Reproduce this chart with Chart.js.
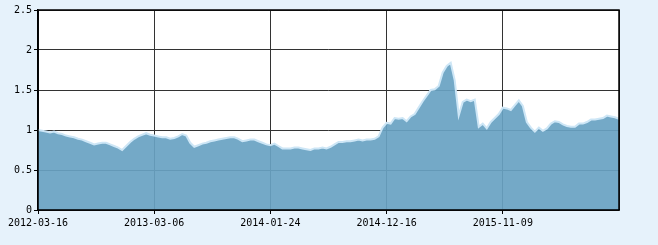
<!DOCTYPE html>
<html>
<head>
<meta charset="utf-8">
<script src="https://cdn.jsdelivr.net/npm/chart.js@4"></script>
<style>
  html, body { margin: 0; padding: 0; background: #e6f2fb; }
  #wrap { width: 658px; height: 245px; }
</style>
</head>
<body>
<div id="wrap"><canvas id="myChart" width="658" height="245"></canvas></div>
<script>
// x tick labels, one every 29 samples
const tickLabels = ['2012-03-16', '2013-03-06', '2014-01-24', '2014-12-16', '2015-11-09', ''];
const tickStep = 29;

const values = [
  1.00, 0.99, 0.98, 0.97, 0.98, 0.96, 0.95, 0.93, 0.92, 0.91,
  0.89, 0.88, 0.86, 0.84, 0.82, 0.83, 0.84, 0.84, 0.82, 0.80,
  0.78, 0.75, 0.80, 0.85, 0.89, 0.92, 0.94, 0.96, 0.94, 0.93,
  0.92, 0.91, 0.91, 0.89, 0.90, 0.92, 0.95, 0.93, 0.84, 0.79,
  0.81, 0.83, 0.84, 0.86, 0.87, 0.88, 0.89, 0.90, 0.91, 0.91,
  0.89, 0.86, 0.87, 0.88, 0.88, 0.86, 0.84, 0.82, 0.81, 0.83,
  0.80, 0.77, 0.77, 0.77, 0.78, 0.78, 0.77, 0.76, 0.75, 0.77,
  0.77, 0.78, 0.77, 0.79, 0.82, 0.85, 0.85, 0.86, 0.86, 0.87,
  0.88, 0.87, 0.88, 0.88, 0.89, 0.92, 1.03, 1.09, 1.08, 1.15,
  1.14, 1.15, 1.11, 1.17, 1.20, 1.28, 1.36, 1.43, 1.50, 1.51,
  1.55, 1.72, 1.80, 1.84, 1.62, 1.18, 1.35, 1.38, 1.36, 1.38,
  1.04, 1.08, 1.02, 1.10, 1.15, 1.20, 1.28, 1.27, 1.25, 1.31,
  1.37, 1.30, 1.10, 1.03, 0.98, 1.03, 0.99, 1.02, 1.08, 1.11,
  1.10, 1.07, 1.05, 1.04, 1.04, 1.08, 1.08, 1.10, 1.13, 1.13,
  1.14, 1.15, 1.18, 1.17, 1.16, 1.14
];

const points = values.map((v, i) => ({ x: i, y: v }));

const tickFont = { family: 'DejaVu Sans Mono', size: 10 };

var ctx = document.getElementById('myChart').getContext('2d');
var chart = new Chart(ctx, {
  type: 'line',
  data: {
    datasets: [{
      data: points,
      fill: 'origin',
      backgroundColor: 'rgba(104, 162, 194, 0.92)',
      borderColor: 'rgba(205, 230, 246, 1)',
      borderWidth: 2,
      pointRadius: 0,
      tension: 0
    }]
  },
  options: {
    responsive: false,
    animation: false,
    layout: { padding: { top: 10, right: 39, left: 0, bottom: 0 } },
    plugins: { legend: { display: false }, tooltip: { enabled: false } },
    scales: {
      x: {
        type: 'linear',
        min: 0,
        max: values.length - 1,
        afterFit: s => { s.height = 35; },
        ticks: {
          stepSize: tickStep,
          autoSkip: false,
          maxRotation: 0,
          padding: 3,
          color: '#000',
          font: tickFont,
          callback: v => tickLabels[Math.round(v / tickStep)] || ''
        },
        grid: {
          color: '#333',
          tickColor: c => (c.index === tickLabels.length - 1 ? 'rgba(0,0,0,0)' : '#000'),
          tickLength: 4,
          lineWidth: 1
        },
        border: { color: '#000', width: 1.5 }
      },
      y: {
        min: 0,
        max: 2.5,
        afterFit: s => { s.width = 38; },
        ticks: { stepSize: 0.5, padding: 2, color: '#000', font: tickFont, callback: v => String(v) },
        grid: { color: '#333', tickColor: '#000', tickLength: 4, lineWidth: 1 },
        border: { color: '#000', width: 1.5 }
      }
    }
  },
  plugins: [{
    id: 'plotBg',
    beforeDraw(c) {
      const a = c.chartArea;
      c.ctx.save();
      c.ctx.fillStyle = '#fff';
      c.ctx.fillRect(a.left, a.top, a.right - a.left, a.bottom - a.top);
      c.ctx.restore();
    },
    afterDraw(c) {
      const a = c.chartArea;
      c.ctx.save();
      c.ctx.strokeStyle = '#000';
      c.ctx.lineWidth = 1.5;
      c.ctx.strokeRect(a.left, a.top, a.right - a.left, a.bottom - a.top);
      c.ctx.restore();
    }
  }]
});
</script>
</body>
</html>
